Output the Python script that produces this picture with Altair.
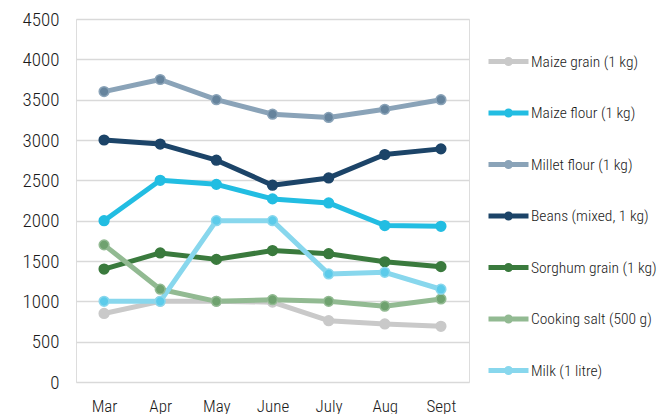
import altair as alt
import pandas as pd

months = ["Mar", "Apr", "May", "June", "July", "Aug", "Sept"]
series_names = [
    "Maize grain (1 kg)",
    "Maize flour (1 kg)",
    "Millet flour (1 kg)",
    "Beans (mixed, 1 kg)",
    "Sorghum grain (1 kg)",
    "Cooking salt (500 g)",
    "Milk (1 litre)",
]
maize_grain = [850, 1000, 1000, 990, 760, 720, 690]
maize_flour = [2000, 2500, 2450, 2270, 2220, 1940, 1930]
millet_flour = [3600, 3750, 3500, 3320, 3280, 3380, 3500]
beans = [3000, 2950, 2750, 2440, 2530, 2820, 2890]
sorghum = [1400, 1600, 1520, 1630, 1590, 1490, 1430]
salt = [1700, 1150, 1000, 1020, 1000, 940, 1030]
milk = [1000, 1000, 2000, 2000, 1340, 1360, 1150]

values = [maize_grain, maize_flour, millet_flour, beans, sorghum, salt, milk]
line_colors = ["#c9c9c9", "#22bde2", "#8aa3b8", "#1c4468", "#3a7a3d", "#92ba92", "#88d7ed"]
marker_fills = ["#c9c9c9", "#22bde2", "#66849d", "#1c4468", "#3a7a3d", "#6fa26f", "#5ccbea"]
line_opac = [1, 1, 1, 1, 1, 0.85, 0.85]

rows = []
for name, vals in zip(series_names, values):
    for m, v in zip(months, vals):
        rows.append({"month": m, "series": name, "price": v})
df = pd.DataFrame(rows)

FONT = "Roboto Condensed"

x = alt.X("month:N", sort=months, scale=alt.Scale(padding=0.5),
          axis=alt.Axis(title=None, labelAngle=0, domain=False, ticks=False, grid=False,
                        labelFontSize=17, labelFont=FONT, labelFontWeight=300, labelColor="#1a1a1a",
                        labelPadding=16))
y = alt.Y("price:Q", scale=alt.Scale(domain=[0, 4500], nice=False),
          axis=alt.Axis(title=None, values=list(range(0, 4501, 500)), format="d", domain=False, ticks=False,
                        labelFontSize=19, labelFont=FONT, labelFontWeight=300, labelColor="#1a1a1a",
                        labelPadding=17, gridColor="#d9d9d9", gridWidth=1.6))

legend_path = "M-1,0L1,0M0.1,0A0.1,0.1,0,1,1,-0.1,0A0.1,0.1,0,1,1,0.1,0"

lines = alt.Chart(df).mark_line(strokeWidth=5, strokeCap="round", strokeJoin="round").encode(
    x=x, y=y,
    color=alt.Color("series:N", sort=series_names,
                    scale=alt.Scale(domain=series_names, range=line_colors),
                    legend=alt.Legend(title=None, orient="none", legendX=410, legendY=20,
                                      symbolType=legend_path, symbolSize=1600, symbolStrokeWidth=5,
                                      labelFont=FONT, labelFontSize=15.5, labelFontWeight=300,
                                      labelColor="#1a1a1a", labelOffset=0, rowPadding=16.5,
                                      labelLimit=200)),
    opacity=alt.Opacity("series:N", scale=alt.Scale(domain=series_names, range=line_opac), legend=None),
)

points = alt.Chart(df).mark_point(filled=True, size=95, strokeWidth=1.5).encode(
    x=x, y=y,
    fill=alt.Fill("series:N", scale=alt.Scale(domain=series_names, range=marker_fills), legend=None),
    stroke=alt.Stroke("series:N", scale=alt.Scale(domain=series_names, range=line_colors), legend=None),
    opacity=alt.value(1),
)

chart = alt.layer(lines, points).resolve_scale(fill="independent", stroke="independent").properties(
    width=393, height=363,
    autosize=alt.AutoSizeParams(type="none"),
    padding={"left": 68, "top": 11, "right": 190, "bottom": 32},
).configure_view(stroke=None).configure(background="white")

chart.save("out.html", embed_options={"renderer": "svg", "actions": False})
